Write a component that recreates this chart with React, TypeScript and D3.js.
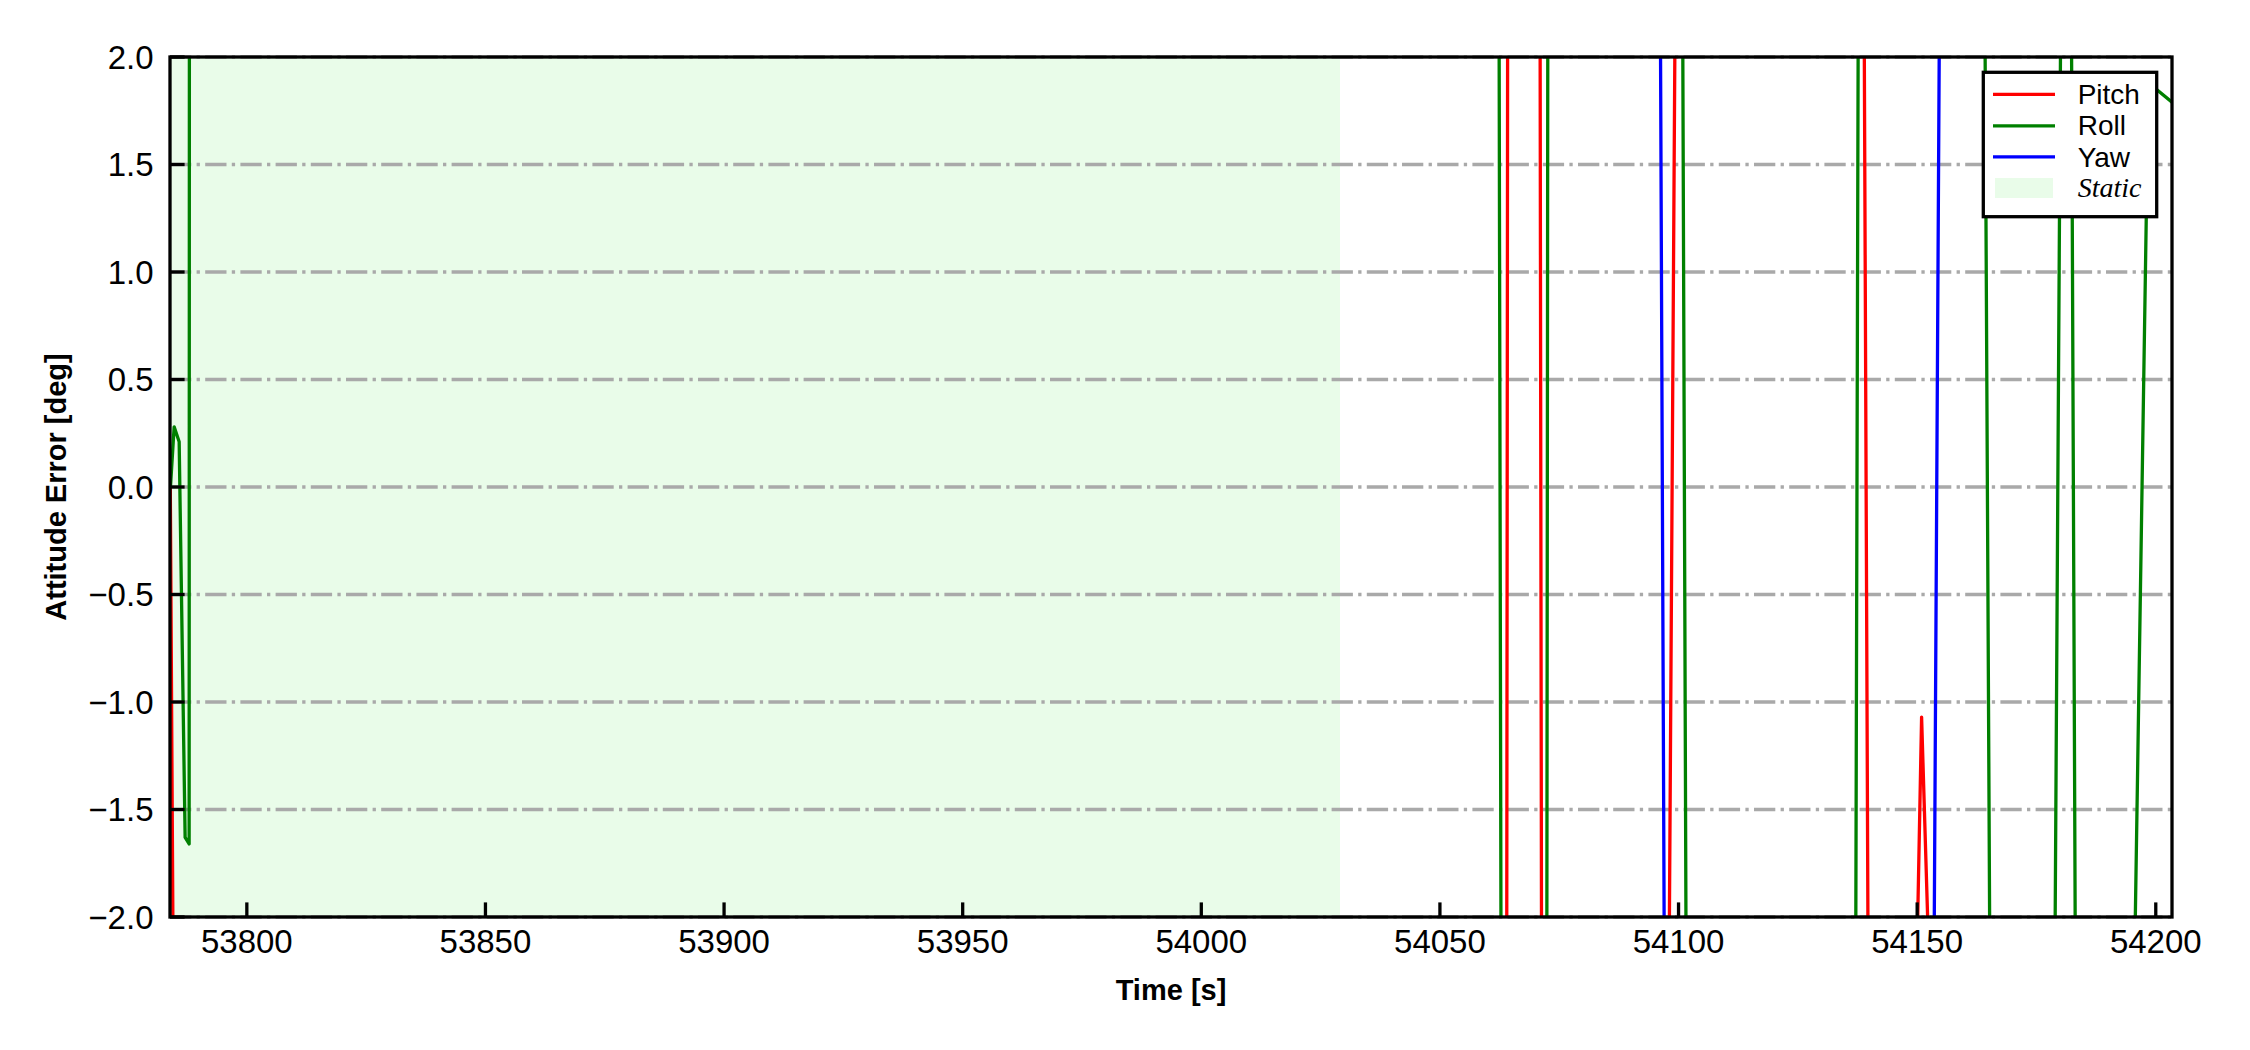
import React from 'react';
import * as d3 from 'd3';

const W = 2250;
const H = 1050;

const xDomain: [number, number] = [53783.9, 54203.4];
const yDomain: [number, number] = [-2, 2];
const xTicks = [53800, 53850, 53900, 53950, 54000, 54050, 54100, 54150, 54200];
const yTicks = [-2, -1.5, -1, -0.5, 0, 0.5, 1, 1.5, 2];

const staticSpan: [number, number] = [53783.9, 54029.06];

// [time, attitude error] — values beyond ±2 are clipped by the axes
const pitch: [number, number][] = [
  [53783.95, 0.05], [53785.3, -5],
  [54063.88, -5], [54064.31, 5],
  [54070.79, 5], [54071.49, -5],
  [54097.24, -5], [54100.07, 5],
  [54138.37, 5], [54140.24, -5],
  [54149.25, -3], [54150.93, -1.07], [54153.55, -3],
  [54203.5, -5],
];

const roll: [number, number][] = [
  [53784.0, 0.0], [53784.77, 0.28], [53785.82, 0.21],
  [53787.07, -1.63], [53787.91, -1.66], [53788.0, 5],
  [54062.13, 5], [54063.07, -5],
  [54072.27, -5], [54072.74, 5],
  [54100.41, 5], [54102.04, -5],
  [54136.79, -5], [54137.99, 5],
  [54163.54, 5], [54165.89, -5],
  [54178.09, -5], [54180.86, 5],
  [54181.8, 5], [54183.67, -5],
  [54193.6, -5], [54198.45, 1.88], [54203.4, 1.79],
];

const yaw: [number, number][] = [
  [53783.9, 5],
  [54095.67, 5], [54097.54, -5],
  [54152.82, -5], [54155.39, 5],
  [54203.5, 5],
];

const seriesNames = ['Pitch', 'Roll', 'Yaw'];
const seriesColors = ['#ff0000', '#008000', '#0000ff'];

export default function App() {
  const L = 170, R = 2172, T = 57, B = 917;
  const x = d3.scaleLinear().domain(xDomain).range([L, R]);
  const y = d3.scaleLinear().domain(yDomain).range([B, T]);
  const line = d3
    .line<[number, number]>()
    .x((d) => x(d[0]))
    .y((d) => y(d[1]));
  const fy = d3.format('.1f');
  const series = [pitch, roll, yaw];
  const font = "'Liberation Sans', Arial, Helvetica, sans-serif";
  const lw = 3.3;

  const legX = 1983.3, legY = 72.3, legW = 173.4, legH = 144.4;
  const rowBase = [104, 135.3, 166.5, 197];
  const rowLine = [94.3, 125.8, 156.8];

  return (
    <svg
      width={W}
      height={H}
      viewBox={`0 0 ${W} ${H}`}
      style={{ position: 'absolute', left: 0, top: 0, background: '#fff' }}
    >
      <defs>
        <clipPath id="plotClip">
          <rect x={L} y={T} width={R - L} height={B - T} />
        </clipPath>
      </defs>
      <rect x={0} y={0} width={W} height={H} fill="#fff" />
      {/* static shading */}
      <rect
        clipPath="url(#plotClip)"
        x={x(staticSpan[0])}
        y={T}
        width={x(staticSpan[1]) - x(staticSpan[0])}
        height={B - T}
        fill="rgb(233,252,233)"
      />
      {/* grid */}
      <g>
        {yTicks.map((t) => (
          <line
            key={t}
            x1={L}
            x2={R}
            y1={y(t)}
            y2={y(t)}
            stroke="#a9a9a9"
            strokeWidth={lw}
            strokeDasharray="21.3 5.3 3.3 5.3"
          />
        ))}
      </g>
      {/* series */}
      <g clipPath="url(#plotClip)">
        {series.map((s, i) => (
          <path
            key={i}
            d={line(s) || ''}
            fill="none"
            stroke={seriesColors[i]}
            strokeWidth={lw}
            strokeLinejoin="round"
            strokeLinecap="butt"
          />
        ))}
      </g>
      {/* ticks */}
      <g>
        {xTicks.map((t) => (
          <g key={t}>
            <line x1={x(t)} x2={x(t)} y1={B} y2={B - 14.6} stroke="#000" strokeWidth={lw} />
            <text
              x={x(t)}
              y={953}
              textAnchor="middle"
              fontFamily={font}
              fontSize={33}
              fill="#000"
            >
              {t}
            </text>
          </g>
        ))}
        {yTicks.map((t) => (
          <g key={t}>
            <line x1={L} x2={L + 14.6} y1={y(t)} y2={y(t)} stroke="#000" strokeWidth={lw} />
            <text
              x={153.5}
              y={y(t) + 11.8}
              textAnchor="end"
              fontFamily={font}
              fontSize={33}
              fill="#000"
            >
              {fy(t)}
            </text>
          </g>
        ))}
      </g>
      {/* frame */}
      <rect x={L} y={T} width={R - L} height={B - T} fill="none" stroke="#000" strokeWidth={lw} />
      {/* axis labels */}
      <text
        x={(L + R) / 2}
        y={1000}
        textAnchor="middle"
        fontFamily={font}
        fontWeight="bold"
        fontSize={29}
        fill="#000"
      >
        Time [s]
      </text>
      <text
        transform={`translate(66, ${(T + B) / 2}) rotate(-90)`}
        textAnchor="middle"
        fontFamily={font}
        fontWeight="bold"
        fontSize={29}
        fill="#000"
      >
        Attitude Error [deg]
      </text>
      {/* legend */}
      <g>
        <rect x={legX} y={legY} width={legW} height={legH} fill="#fff" stroke="#000" strokeWidth={3.3} />
        {seriesNames.map((n, i) => (
          <g key={n}>
            <line x1={1993} x2={2055} y1={rowLine[i]} y2={rowLine[i]} stroke={seriesColors[i]} strokeWidth={lw} />
            <text x={2077.7} y={rowBase[i]} fontFamily={font} fontSize={28} fill="#000">
              {n}
            </text>
          </g>
        ))}
        <rect x={1995} y={178} width={58} height={20} fill="rgb(233,252,233)" />
        <text
          x={2077.7}
          y={rowBase[3]}
          fontFamily="'Liberation Serif', 'Times New Roman', serif"
          fontStyle="italic"
          fontSize={28}
          fill="#000"
        >
          Static
        </text>
      </g>
    </svg>
  );
}
